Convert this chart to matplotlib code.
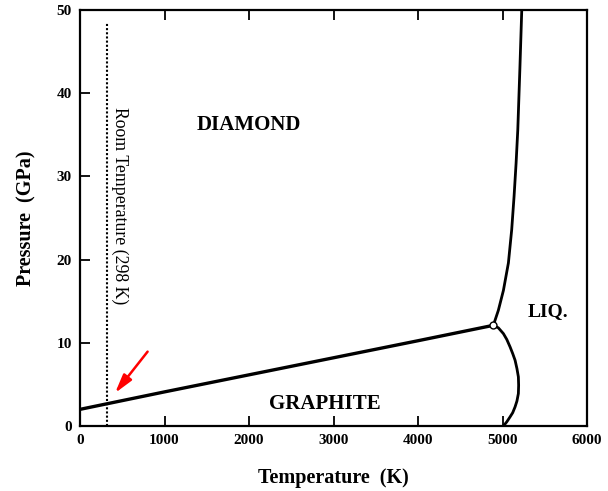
import numpy as np
import matplotlib.pyplot as plt

plt.rcParams["font.family"] = ["Liberation Serif", "DejaVu Serif"]

# phase boundaries (T in K, P in GPa)
GD_T = [0, 1000, 2000, 3000, 4000, 4891]
GD_P = [2.0, 4.1, 6.15, 8.2, 10.25, 12.1]

DL_T = [4891, 4950, 5010, 5069, 5108, 5136, 5160, 5180, 5205, 5227]
DL_P = [12.1, 13.9, 16.3, 19.6, 23.6, 27.6, 31.6, 35.6, 43.0, 50.0]

GL_T = [4891, 4950, 5010, 5050, 5089, 5120, 5148, 5170, 5187, 5190,
        5187, 5170, 5148, 5120, 5089, 5050, 5010]
GL_P = [12.1, 11.8, 11.1, 10.4, 9.5, 8.7, 7.9, 6.9, 5.9, 4.9,
        3.9, 3.0, 2.3, 1.6, 1.1, 0.5, 0.0]

ROOM_T = 320
XTICKS = [0, 1000, 2000, 3000, 4000, 5000, 6000]
YTICKS = [0, 10, 20, 30, 40, 50]

fig = plt.figure(figsize=(6.08, 4.91), dpi=100)
ax = fig.add_axes([0.1316, 0.1324, 0.834, 0.8472])

ax.plot(GD_T, GD_P, color='black', lw=2.4, solid_capstyle='butt')
ax.plot(DL_T, DL_P, color='black', lw=2.0, solid_joinstyle='round')
ax.plot(GL_T, GL_P, color='black', lw=2.0, solid_joinstyle='round')
ax.plot([GD_T[-1]], [GD_P[-1]], 'o', ms=5, mfc='white', mec='black', mew=1)

# room temperature line
ax.plot([ROOM_T, ROOM_T], [0, 48.4], color='black', lw=1.5, ls=(0, (1, 1)))
ax.text(ROOM_T + 150, 38.3, 'Room Temperature (298 K)', rotation=270,
        ha='center', va='top', fontsize=12.8)

# red arrow
ax.annotate('', xy=(394, 3.7), xytext=(820, 9.2),
            arrowprops=dict(arrowstyle='-|>,head_length=0.8,head_width=0.22',
                            color='red', lw=1.8, mutation_scale=14))

ax.text(2000, 36.2, 'DIAMOND', ha='center', va='center', fontsize=15, fontweight='bold')
ax.text(2899, 2.6, 'GRAPHITE', ha='center', va='center', fontsize=15, fontweight='bold')
ax.text(5538, 13.7, 'LIQ.', ha='center', va='center', fontsize=14, fontweight='bold')

ax.set_xlim(0, 6000)
ax.set_ylim(0, 50)
ax.set_xticks(XTICKS)
ax.set_yticks(YTICKS)
ax.set_xticklabels([str(t) for t in XTICKS], fontweight='bold', fontsize=11)
ax.set_yticklabels([str(t) for t in YTICKS], fontweight='bold', fontsize=11)
ax.tick_params(axis='x', direction='in', top=True, length=7, width=1.3, pad=6)
ax.tick_params(axis='y', direction='in', length=7, width=1.3, pad=6)
for s in ax.spines.values():
    s.set_linewidth(1.6)

ax.set_xlabel('Temperature  (K)', fontsize=14.5, fontweight='bold', labelpad=15)
ax.set_ylabel('Pressure  (GPa)', fontsize=14.5, fontweight='bold', labelpad=14)

fig.savefig('out.png', dpi=100)
